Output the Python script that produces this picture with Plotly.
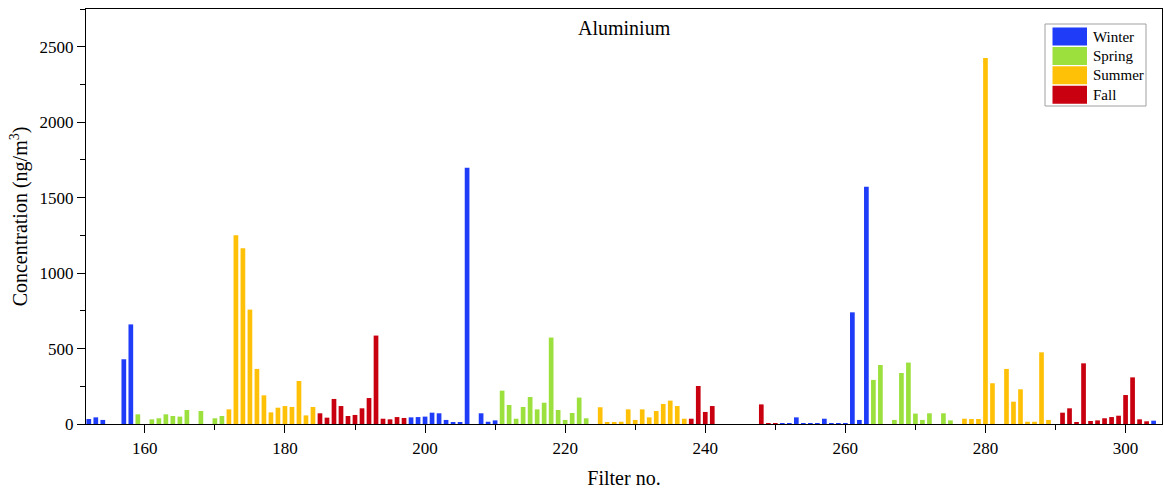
import plotly.graph_objects as go

# ---- data ----
winter_filter = [152, 153, 154, 157, 158, 198, 199, 200, 201, 202, 203, 204, 205, 206, 208, 209, 210,
                 251, 252, 253, 254, 255, 256, 257, 258, 259, 260, 261, 262, 263, 304]
winter_conc = [33, 44, 27, 429, 660, 44, 46, 49, 75, 71, 27, 9, 8, 1698, 71, 15, 24,
               5, 5, 44, 5, 5, 5, 35, 5, 5, 5, 740, 27, 1572, 22]

spring_filter = [159, 161, 162, 163, 164, 165, 166, 168, 170, 171,
                 211, 212, 213, 214, 215, 216, 217, 218, 219, 220, 221, 222, 223,
                 264, 265, 267, 268, 269, 270, 271, 272, 274, 275]
spring_conc = [64, 31, 38, 64, 53, 49, 93, 86, 38, 53,
               221, 126, 35, 113, 179, 97, 141, 573, 93, 27, 73, 175, 38,
               292, 391, 27, 338, 407, 69, 27, 71, 71, 24]

summer_filter = [172, 173, 174, 175, 176, 177, 178, 179, 180, 181, 182, 183, 184,
                 225, 226, 227, 228, 229, 230, 231, 232, 233, 234, 235, 236, 237,
                 277, 278, 279, 280, 281, 283, 284, 285, 286, 287, 288, 289]
summer_conc = [97, 1250, 1165, 758, 365, 190, 77, 108, 119, 113, 285, 57, 113,
               111, 13, 13, 15, 97, 27, 97, 44, 86, 133, 155, 119, 35,
               35, 33, 33, 2425, 270, 365, 148, 230, 15, 15, 475, 27]

fall_filter = [185, 186, 187, 188, 189, 190, 191, 192, 193, 194, 195, 196, 197,
               238, 239, 240, 241, 248, 249, 250,
               291, 292, 293, 294, 295, 296, 297, 298, 299, 300, 301, 302, 303]
fall_conc = [71, 42, 166, 119, 53, 60, 104, 172, 586, 35, 31, 46, 40,
             35, 252, 80, 119, 130, 5, 5,
             75, 104, 9, 402, 20, 24, 38, 46, 55, 192, 309, 31, 18]

season_names = ["Winter", "Spring", "Summer", "Fall"]
season_colors = ["#1F3CF8", "#9CE03E", "#FFC107", "#C8000F"]
season_x = [winter_filter, spring_filter, summer_filter, fall_filter]
season_y = [winter_conc, spring_conc, summer_conc, fall_conc]

FONT = "Liberation Serif, Times New Roman, serif"

fig = go.Figure()
for name, col, xs, ys in zip(season_names, season_colors, season_x, season_y):
    fig.add_trace(go.Bar(x=xs, y=ys, name=name, width=0.67,
                         marker=dict(color=col, line=dict(width=0)),
                         showlegend=False))

# plot area in pixels
L, R, T, B = 86, 1162, 9, 424
W, H = 1164, 493


def px_x(p):
    return (p - L) / (R - L)


def px_y(p):
    return (B - p) / (B - T)


shapes = []
annotations = []
# custom legend box
shapes.append(dict(type="rect", xref="paper", yref="paper",
                   x0=px_x(1045), x1=px_x(1146), y0=px_y(106), y1=px_y(24),
                   line=dict(color="#a0a0a0", width=1), fillcolor="white", layer="above"))
for i, (name, col) in enumerate(zip(season_names, season_colors)):
    top = 27.5 + i * 19.4
    bot = top + 18
    shapes.append(dict(type="rect", xref="paper", yref="paper",
                       x0=px_x(1052.5), x1=px_x(1087), y0=px_y(bot), y1=px_y(top),
                       line=dict(width=0), fillcolor=col, layer="above"))
    annotations.append(dict(xref="paper", yref="paper", x=px_x(1091), y=px_y((top + bot) / 2),
                            text=name, showarrow=False, xanchor="left", yanchor="middle",
                            font=dict(family=FONT, size=15, color="black")))

annotations.append(dict(xref="paper", yref="paper", x=0.5, y=px_y(28), text="Aluminium",
                        showarrow=False, xanchor="center", yanchor="middle",
                        font=dict(family=FONT, size=20, color="black")))

fig.update_layout(
    width=W, height=H,
    margin=dict(l=L, r=W - R, t=T, b=H - B),
    paper_bgcolor="white", plot_bgcolor="white",
    barmode="overlay",
    font=dict(family=FONT, size=17, color="black"),
    shapes=shapes, annotations=annotations,
    xaxis=dict(range=[151.6, 305.2], tick0=160, dtick=20, ticks="outside", ticklen=8,
               tickwidth=1.3, tickcolor="black", showline=True, linecolor="black", linewidth=1.3,
               mirror=True, showgrid=False, zeroline=False,
               minor=dict(dtick=10, tick0=150, ticks="outside", ticklen=5, tickwidth=1.3,
                          tickcolor="black", showgrid=False),
               tickfont=dict(family=FONT, size=17),
               title=dict(text="Filter no.", font=dict(family=FONT, size=20), standoff=14)),
    yaxis=dict(range=[0, 2750], tick0=0, dtick=500, ticks="outside", ticklen=8,
               tickwidth=1.3, tickcolor="black", showline=True, linecolor="black", linewidth=1.3,
               mirror=True, showgrid=False, zeroline=False,
               minor=dict(dtick=250, ticks="outside", ticklen=5, tickwidth=1.3,
                          tickcolor="black", showgrid=False),
               tickfont=dict(family=FONT, size=17),
               title=dict(text="Concentration (ng/m<sup>3</sup>)", font=dict(family=FONT, size=20),
                          standoff=6)),
)

fig.write_html("out.html")
